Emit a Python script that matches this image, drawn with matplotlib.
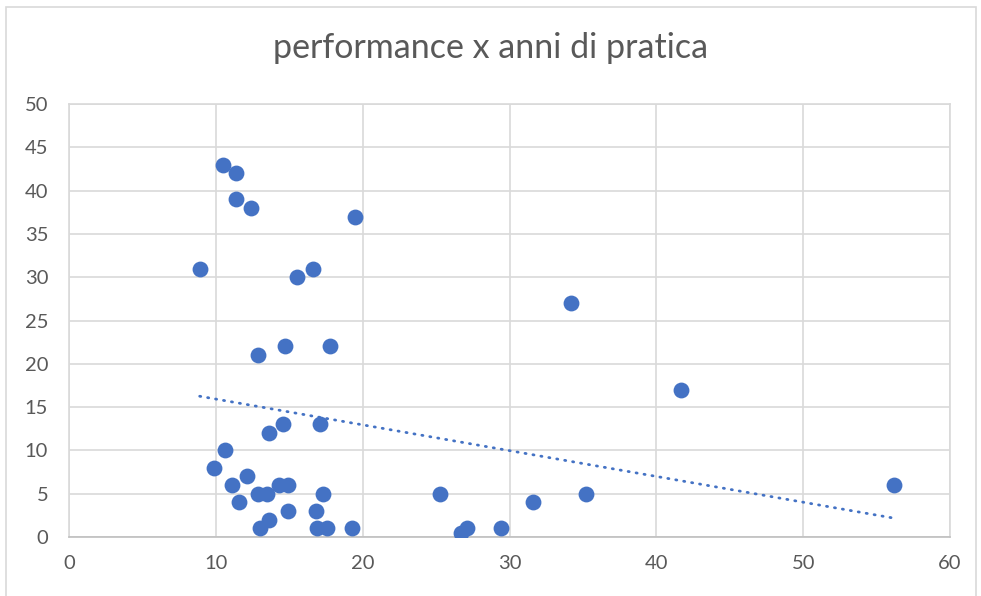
import matplotlib.pyplot as plt
import matplotlib.patches as patches
import numpy as np

# anni di pratica (x) e performance (y)
anni = [10.5, 11.4, 11.4, 12.4, 19.5, 8.9, 15.5, 16.6,
        12.9, 14.7, 17.8, 34.2, 41.7,
        13.6, 14.6, 17.1, 10.6, 9.9, 12.1, 11.1, 14.3, 14.9,
        12.9, 13.5, 17.3, 11.6, 14.9, 16.8, 13.6, 13.0, 16.9, 17.6, 19.3,
        25.3, 26.7, 27.1, 29.4, 31.6, 35.2, 56.2]
performance = [43, 42, 39, 38, 37, 31, 30, 31,
               21, 22, 22, 27, 17,
               12, 13, 13, 10, 8, 7, 6, 6, 6,
               5, 5, 5, 4, 3, 3, 2, 1, 1, 1, 1,
               5, 0.5, 1, 1, 4, 5, 6]

x_ticks = [0, 10, 20, 30, 40, 50, 60]
y_ticks = [0, 5, 10, 15, 20, 25, 30, 35, 40, 45, 50]

blue = '#4472C4'
grid_col = '#D9D9D9'
text_col = '#595959'

plt.rcParams['font.family'] = ['Lato', 'DejaVu Sans']

fig = plt.figure(figsize=(9.81, 5.96), dpi=100)
ax = fig.add_axes([69 / 981, (596 - 537) / 596, (950 - 69) / 981, (537 - 104) / 596])

# bordo esterno del grafico
fig.patches.append(patches.Rectangle((6 / 981, -0.01), 970 / 981, (596 - 7) / 596 + 0.01,
                                     transform=fig.transFigure, fill=False,
                                     edgecolor=grid_col, linewidth=1.2))

ax.scatter(anni, performance, s=130, color=blue, zorder=3, linewidths=0)

# linea di tendenza lineare
xa = np.array(anni)
m, q = np.polyfit(xa, np.array(performance), 1)
xt = np.array([xa.min(), xa.max()])
ax.plot(xt, m * xt + q, color=blue, linewidth=2.0, linestyle=(0, (0.4, 2.5)),
        dash_capstyle='round', zorder=2)

ax.set_xlim(0, 60)
ax.set_ylim(0, 50)
ax.set_xticks(x_ticks)
ax.set_yticks(y_ticks)
ax.grid(True, color=grid_col, linewidth=1.2)
ax.set_axisbelow(True)
for s in ax.spines.values():
    s.set_color(grid_col)
    s.set_linewidth(1.2)
ax.spines['bottom'].set_color('#BFBFBF')
ax.tick_params(length=0, labelsize=14.5, colors=text_col, pad=13)
ax.tick_params(axis='y', pad=15)

fig.text(0.5, 1 - 48 / 596, 'performance x anni di pratica', ha='center', va='center',
         fontsize=24.5, color=text_col)

plt.savefig('out.png', dpi=100)
